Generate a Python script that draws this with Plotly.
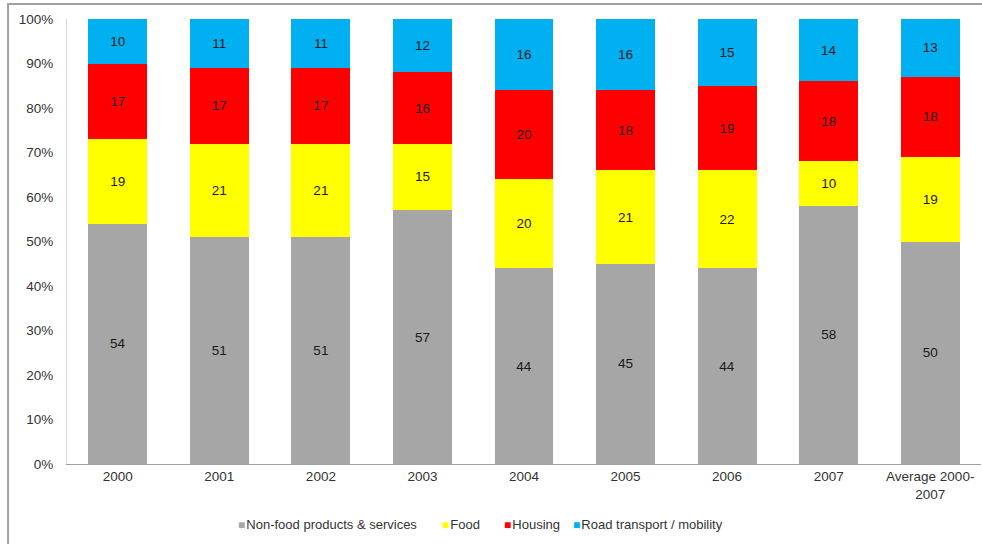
import plotly.graph_objects as go

categories = ["2000", "2001", "2002", "2003", "2004", "2005", "2006", "2007", "Average 2000-<br>2007"]
non_food = [54, 51, 51, 57, 44, 45, 44, 58, 50]
food = [19, 21, 21, 15, 20, 21, 22, 10, 19]
housing = [17, 17, 17, 16, 20, 18, 19, 18, 18]
road = [10, 11, 11, 12, 16, 16, 15, 14, 13]

series = [
    ("Non-food products & services", non_food, "#A6A6A6"),
    ("Food", food, "#FFFF00"),
    ("Housing", housing, "#FF0000"),
    ("Road transport / mobility", road, "#00B0F0"),
]

FONT = "Liberation Sans, Arial, sans-serif"

fig = go.Figure()
for name, vals, color in series:
    fig.add_trace(go.Bar(
        x=categories, y=vals, name=name,
        marker=dict(color=color, line=dict(width=0)),
        text=[str(v) for v in vals],
        textposition="inside", insidetextanchor="middle",
        textangle=0, constraintext="none",
        textfont=dict(family=FONT, size=13.5, color="#1a1a1a"),
        showlegend=False,
    ))

# compact legend row below the axis: small coloured square + label
legend_x = [0.185, 0.408, 0.476, 0.551]
annotations = []
for (name, _, color), lx in zip(series, legend_x):
    annotations.append(dict(
        xref="paper", yref="paper", x=lx, y=-0.137, xanchor="left", yanchor="middle",
        showarrow=False,
        text=f"<span style='color:{color};font-size:12px'>■</span>\u200a{name}",
        font=dict(family=FONT, size=13, color="#333333"),
    ))

fig.update_layout(
    barmode="stack",
    bargap=0.42,
    width=982, height=544,
    margin=dict(l=67, r=1, t=19, b=80),
    paper_bgcolor="white", plot_bgcolor="white",
    font=dict(family=FONT, size=13, color="#333333"),
    showlegend=False,
    annotations=annotations,
    xaxis=dict(showline=True, linecolor="#A0A0A0", linewidth=1, ticks="",
               tickfont=dict(size=13.5)),
    yaxis=dict(range=[0, 100], dtick=10, ticksuffix="%", showgrid=False, showline=True,
               linecolor="#D9D9D9", linewidth=1, zeroline=False, ticks="",
               ticklabelstandoff=10, tickfont=dict(size=13.5)),
    shapes=[dict(type="rect", xref="paper", yref="paper",
                 x0=-0.0645, x1=1.2, y0=-0.4, y1=1.0337,
                 line=dict(color="#A0A0A0", width=2), layer="below")],
)

fig.write_html("out.html")
